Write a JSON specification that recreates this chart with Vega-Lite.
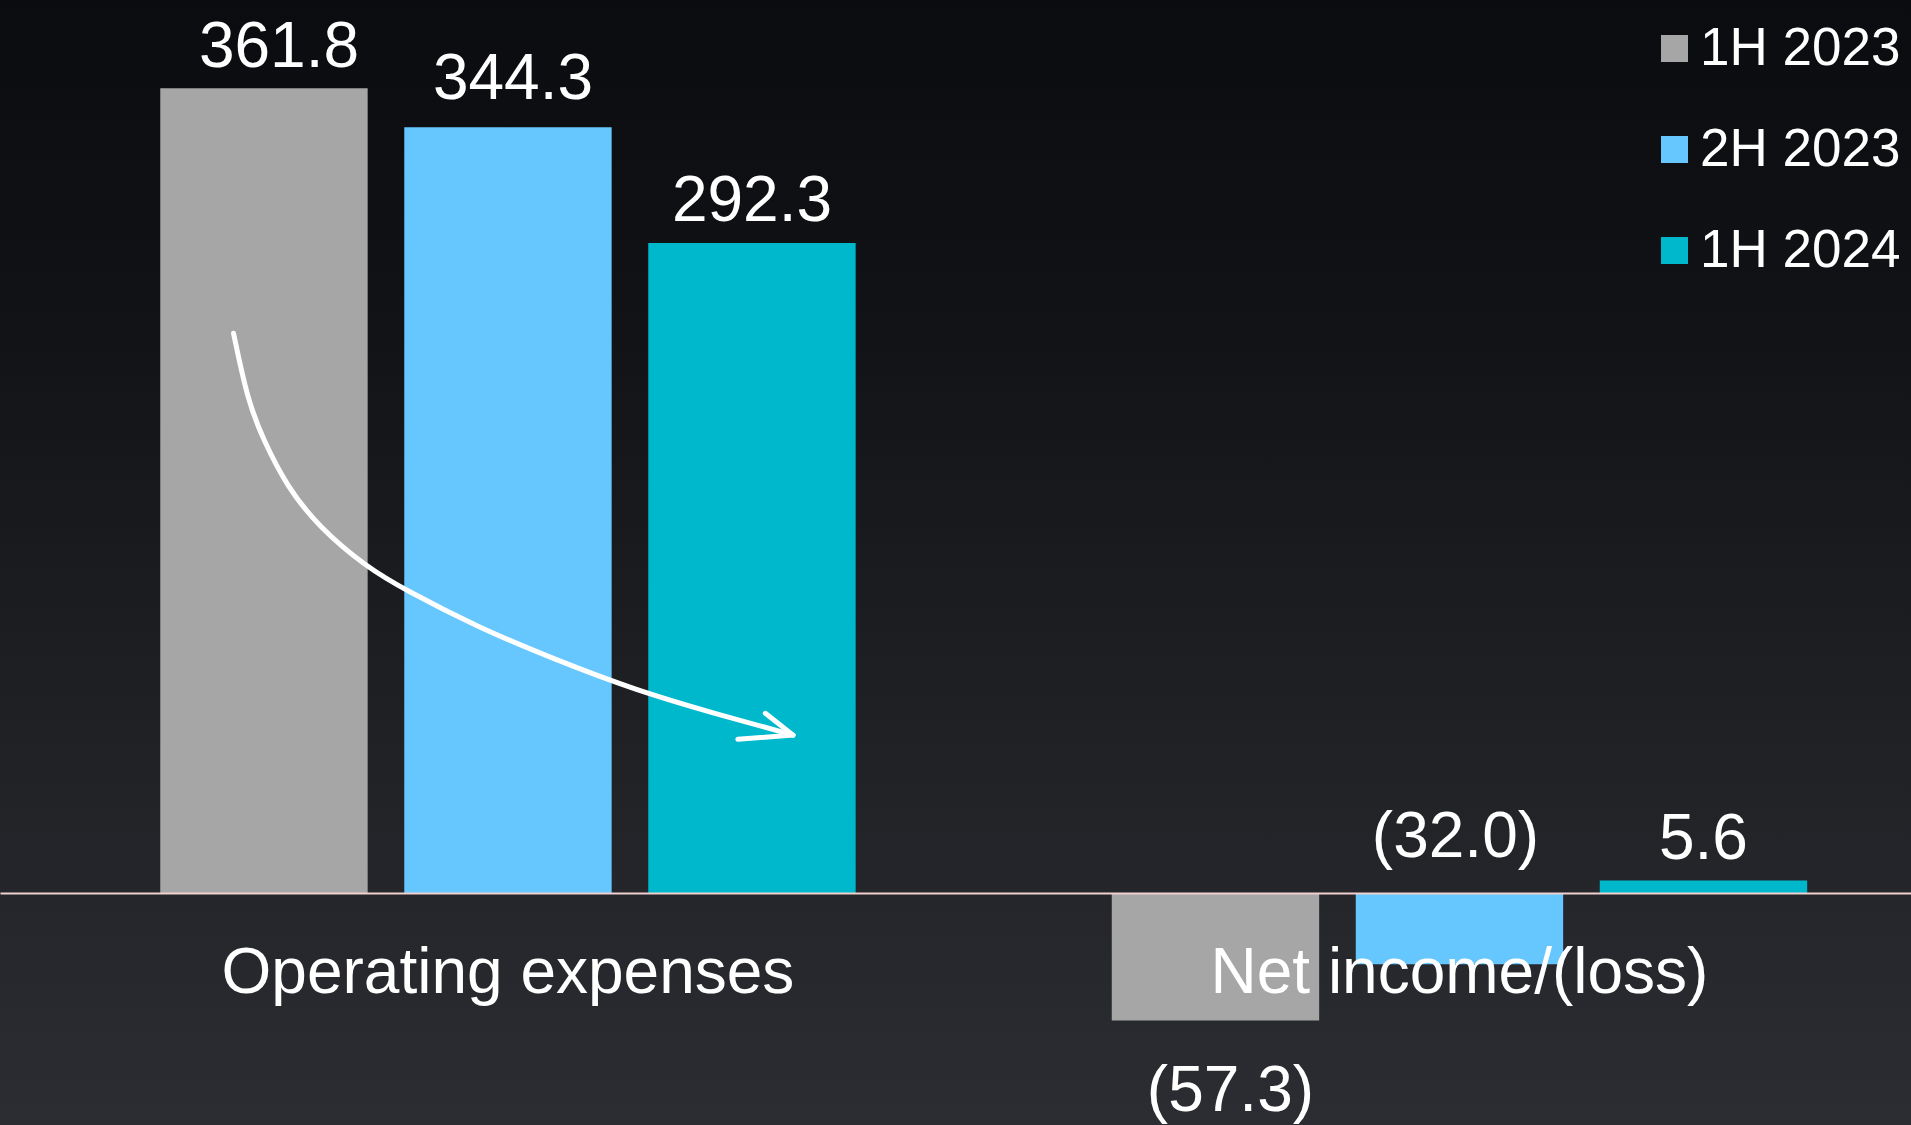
{
  "$schema": "https://vega.github.io/schema/vega-lite/v6.json",
  "width": 1911,
  "height": 1125,
  "autosize": {"type": "none"},
  "padding": 0,
  "background": "#1a1b1f",
  "config": {"view": {"stroke": null}, "font": "Liberation Sans"},
  "datasets": {
    "bars": [
      {"category": "Operating expenses", "series": "1H 2023", "value": 361.8},
      {"category": "Operating expenses", "series": "2H 2023", "value": 344.3},
      {"category": "Operating expenses", "series": "1H 2024", "value": 292.3},
      {"category": "Net income/(loss)", "series": "1H 2023", "value": -57.3},
      {"category": "Net income/(loss)", "series": "2H 2023", "value": -32.0},
      {"category": "Net income/(loss)", "series": "1H 2024", "value": 5.6}
    ],
    "shaft": [
      {"i": 0, "px": 12.22, "v": 251.7},
      {"i": 1, "px": 12.95, "v": 221.7},
      {"i": 2, "px": 13.78, "v": 203.7},
      {"i": 3, "px": 15.02, "v": 182.7},
      {"i": 4, "px": 16.67, "v": 164.7},
      {"i": 5, "px": 19.15, "v": 146.7},
      {"i": 6, "px": 21.22, "v": 136.2},
      {"i": 7, "px": 24.95, "v": 119.7},
      {"i": 8, "px": 29.09, "v": 104.8},
      {"i": 9, "px": 33.23, "v": 91.3},
      {"i": 10, "px": 37.36, "v": 80.8},
      {"i": 11, "px": 41.5, "v": 71.0}
    ],
    "head": [
      {"i": 0, "px": 40.05, "v": 80.8},
      {"i": 1, "px": 41.5, "v": 71.0},
      {"i": 2, "px": 38.61, "v": 69.1}
    ]
  },
  "layer": [
    {
      "data": {"name": "bars"},
      "encoding": {
        "x": {"field": "category", "type": "nominal"},
        "xOffset": {"field": "series", "type": "nominal"},
        "y": {"field": "value", "type": "quantitative"}
      },
      "layer": [
        {
          "data": {"values": [{}]},
          "mark": {
            "type": "rect",
            "fill": {
              "gradient": "linear", "x1": 0, "y1": 0, "x2": 0, "y2": 1,
              "stops": [
                {"offset": 0, "color": "#0b0c0f"},
                {"offset": 0.27, "color": "#111215"},
                {"offset": 0.68, "color": "#212226"},
                {"offset": 1, "color": "#2c2d32"}
              ]
            }
          },
          "encoding": {
            "x": {"value": 0}, "x2": {"value": "width"},
            "y": {"value": 0}, "y2": {"value": "height"},
            "xOffset": null
          }
        },
        {
          "mark": {"type": "bar"},
          "encoding": {
            "x": {
              "field": "category", "type": "nominal", "sort": ["Operating expenses", "Net income/(loss)"],
              "scale": {"domain": ["Operating expenses", "Net income/(loss)"], "paddingInner": 0.2307, "paddingOuter": 0.11955, "align": 0.624},
              "axis": {
                "orient": "bottom", "offset": -232, "title": null, "labelAngle": 0,
                "domainColor": "#efd0d0", "domainWidth": 2, "ticks": false, "tickSize": 0,
                "labelFontSize": 64, "labelColor": "#ffffff", "labelFont": "Liberation Sans",
                "labelBaseline": "alphabetic", "labelPadding": 99, "labelLimit": 1000, "zindex": 1
              }
            },
            "xOffset": {
              "field": "series", "type": "nominal",
              "scale": {"domain": ["1H 2023", "2H 2023", "1H 2024"], "paddingInner": 0.15, "paddingOuter": 0.075}
            },
            "y": {
              "field": "value", "type": "quantitative",
              "scale": {"domain": [-104.3, 401.5], "nice": false, "zero": false},
              "axis": null
            },
            "color": {
              "field": "series", "type": "nominal",
              "scale": {"domain": ["1H 2023", "2H 2023", "1H 2024"], "range": ["#a6a6a6", "#66c7ff", "#00b8cc"]},
              "legend": {
                "orient": "none", "legendX": 1648, "legendY": 22, "title": null, "padding": 0,
                "symbolType": "square", "symbolSize": 729, "symbolStrokeWidth": 0, "symbolOpacity": 1,
                "labelFontSize": 53, "labelColor": "#ffffff", "labelFont": "Liberation Sans",
                "labelOffset": -1, "labelLimit": 1000, "rowPadding": 47
              }
            }
          }
        },
        {
          "transform": [{"filter": "datum.value > 0 && datum.series == '1H 2023'"}],
          "mark": {"type": "text", "baseline": "alphabetic", "dy": -21, "dx": 15, "fontSize": 64, "color": "#ffffff"},
          "encoding": {"text": {"field": "value", "type": "quantitative", "format": "(.1f"}}
        },
        {
          "transform": [{"filter": "datum.value > 0 && datum.series == '2H 2023'"}],
          "mark": {"type": "text", "baseline": "alphabetic", "dy": -28, "dx": 5, "fontSize": 64, "color": "#ffffff"},
          "encoding": {"text": {"field": "value", "type": "quantitative", "format": "(.1f"}}
        },
        {
          "transform": [{"filter": "datum.value > 0 && datum.series == '1H 2024'"}],
          "mark": {"type": "text", "baseline": "alphabetic", "dy": -22, "fontSize": 64, "color": "#ffffff"},
          "encoding": {"text": {"field": "value", "type": "quantitative", "format": "(.1f"}}
        },
        {
          "transform": [{"filter": "datum.value < 0 && datum.series == '2H 2023'"}],
          "mark": {"type": "text", "baseline": "alphabetic", "dy": -107, "dx": -4, "fontSize": 64, "color": "#ffffff"},
          "encoding": {"text": {"field": "value", "type": "quantitative", "format": "(.1f"}}
        },
        {
          "transform": [{"filter": "datum.value < 0 && datum.series == '1H 2023'"}],
          "mark": {"type": "text", "baseline": "alphabetic", "dy": 91, "dx": 15, "fontSize": 64, "color": "#ffffff"},
          "encoding": {"text": {"field": "value", "type": "quantitative", "format": "(.1f"}}
        }
      ]
    },
    {
      "layer": [
        {
          "data": {"name": "shaft"},
          "mark": {"type": "line", "interpolate": "basis", "color": "#ffffff", "strokeWidth": 5, "strokeCap": "round"},
          "encoding": {
            "x": {"field": "px", "type": "quantitative", "scale": {"domain": [0, 100], "nice": false, "zero": false}, "axis": null},
            "y": {"field": "v", "type": "quantitative"},
            "order": {"field": "i"}
          }
        },
        {
          "data": {"name": "head"},
          "mark": {"type": "line", "color": "#ffffff", "strokeWidth": 5, "strokeCap": "round", "strokeJoin": "round"},
          "encoding": {
            "x": {"field": "px", "type": "quantitative", "axis": null},
            "y": {"field": "v", "type": "quantitative"},
            "order": {"field": "i"}
          }
        }
      ]
    }
  ],
  "resolve": {"scale": {"x": "independent"}}
}
